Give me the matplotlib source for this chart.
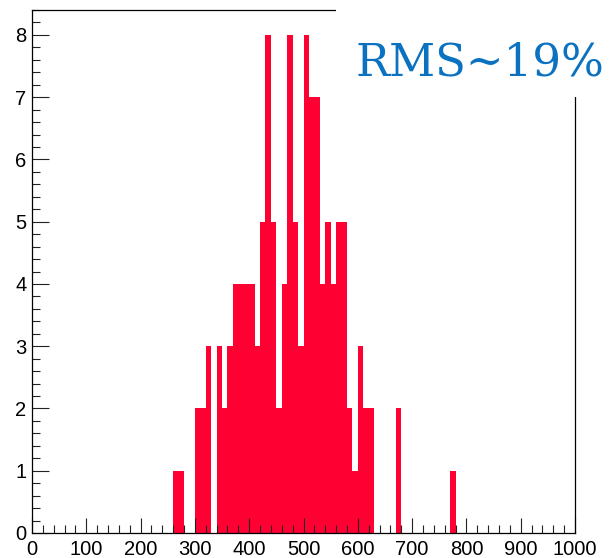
import numpy as np
import matplotlib
matplotlib.use("Agg")
import matplotlib.pyplot as plt
from matplotlib.ticker import MultipleLocator
from matplotlib.patches import Rectangle

# Histogram data (bin width 10, range 0-1000)
bin_lefts = [260, 270, 300, 310, 320, 340, 350, 360, 370, 380, 390, 400, 410,
             420, 430, 440, 450, 460, 470, 480, 490, 500, 510, 520, 530, 540,
             550, 560, 570, 580, 590, 600, 610, 620, 670, 770]
bin_counts = [1, 1, 2, 2, 3, 3, 2, 3, 4, 4, 4, 4, 3,
              5, 8, 5, 2, 4, 8, 5, 3, 8, 7, 7, 4, 5,
              4, 5, 5, 2, 1, 3, 2, 2, 2, 1]
x_min, x_max, bin_width = 0, 1000, 10
label_text = "RMS~19%"

edges = np.arange(x_min, x_max + bin_width, bin_width)
counts = np.zeros(len(edges) - 1)
for left, c in zip(bin_lefts, bin_counts):
    counts[int((left - x_min) // bin_width)] = c

fig = plt.figure(figsize=(6.12, 5.58), dpi=100)
ax = fig.add_axes([32/612, 25/558, 543/612, 523/558])

ax.stairs(counts, edges, fill=True, color="#ff0033", linewidth=0)

ax.set_xlim(x_min, x_max)
ax.set_ylim(0, 8.4)

ax.xaxis.set_major_locator(MultipleLocator(100))
ax.xaxis.set_minor_locator(MultipleLocator(20))
ax.yaxis.set_major_locator(MultipleLocator(1))
ax.yaxis.set_minor_locator(MultipleLocator(0.2))

for sp in ax.spines.values():
    sp.set_linewidth(0.9)
    sp.set_color("black")

ax.tick_params(which="both", direction="in", top=False, right=False,
               width=0.8, color="#222222")
ax.tick_params(axis="x", which="major", length=11, pad=5, labelsize=14.5)
ax.tick_params(axis="x", which="minor", length=6)
ax.tick_params(axis="y", which="major", length=12, pad=4, labelsize=14.5)
ax.tick_params(axis="y", which="minor", length=6)
for lab in ax.get_xticklabels() + ax.get_yticklabels():
    lab.set_fontfamily("Liberation Sans")

# white pave behind the label, hiding part of the frame
fig.patches.append(Rectangle((336/612, 1 - 97/558), 1 - 336/612, 97/558,
                             transform=fig.transFigure, facecolor="white",
                             edgecolor="none", zorder=5))
fig.text(356/612, 1 - 75/558, label_text, family="DejaVu Serif",
         fontsize=32.5, color="#0a72c0", ha="left", va="baseline", zorder=6)

fig.savefig("out.png", dpi=100)
